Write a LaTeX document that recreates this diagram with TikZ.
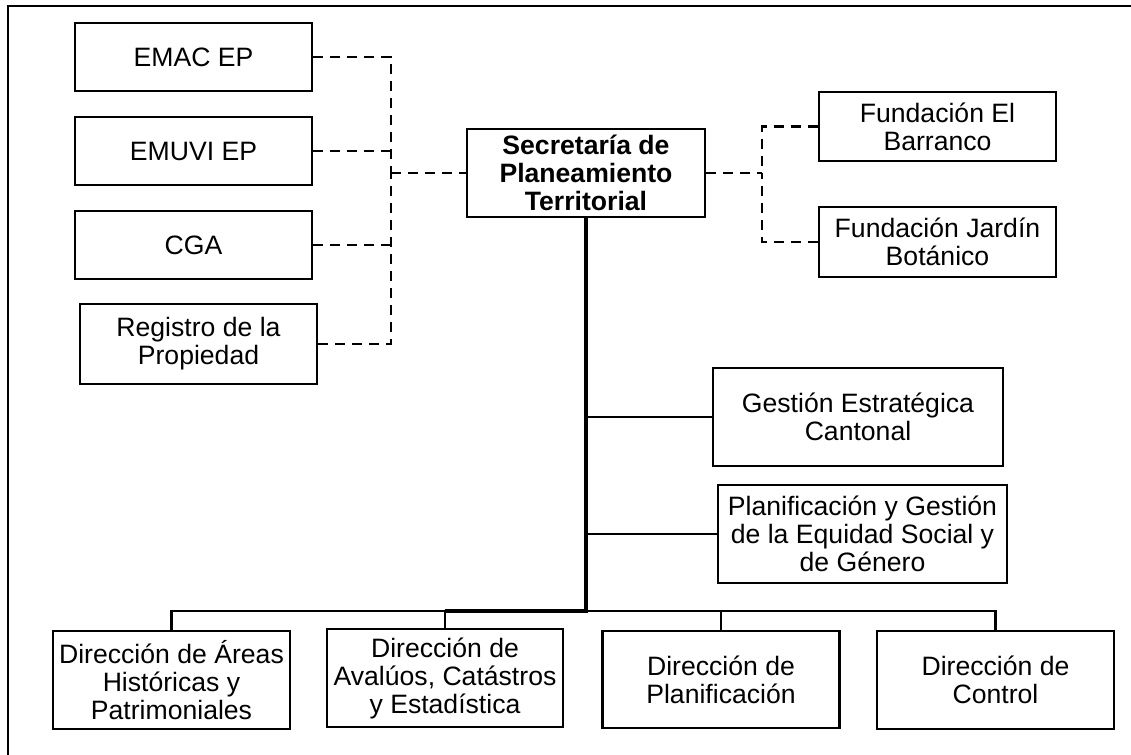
\documentclass[tikz,border=0pt]{standalone}
\usepackage{fontspec}
\setmainfont{Liberation Sans}
\usetikzlibrary{positioning}

\begin{document}
\begin{tikzpicture}[x=0.5pt,y=-0.5pt,
    unit/.style={draw, line width=1.2pt, align=center, inner sep=0pt,
        minimum width=118.5pt, font=\fontsize{13.3}{14}\selectfont},
    dep/.style={dash pattern=on 5pt off 3.5pt, line width=1.3pt},
    ]
\useasboundingbox (0,0) rectangle (1131,755);
\draw[line width=1pt] (8,755) -- (8,6) -- (1131,6);

% adscritas
\node [unit, minimum height=34pt] (emac) at (193.5,57) {EMAC EP};
\node [unit, minimum height=34pt] (emuvi) at (193.5,151) {EMUVI EP};
\node [unit, minimum height=34pt] (cga) at (193.5,245) {CGA};
\node [unit, minimum height=40pt] (registro) at (198.5,344)
    {Registro de la\\Propiedad};

\node [unit, minimum width=119pt, minimum height=44pt,
    font=\fontsize{13.3}{14}\selectfont\bfseries
    ]  (secretaria) at (586,173) {Secretaría de\\Planeamiento\\Territorial};

\node [unit, minimum height=34.5pt] (barranco) at (937.5,126.5)
    {Fundación El\\Barranco};
\node [unit, minimum height=35pt] (jardin) at (937.5,242)
    {Fundación Jardín\\Botánico};

% asesoria
\node [unit, minimum width=145pt, minimum height=49pt] (gestion) at (858,417)
    {Gestión Estratégica\\Cantonal};
\node [unit, minimum width=144.5pt, minimum height=49pt] (equidad) at (862.5,534)
    {Planificación y Gestión\\de la Equidad Social y\\de Género};

% direcciones
\node [unit, minimum height=49pt] (areas) at (171.5,680)
    {Dirección de Áreas\\Históricas y\\Patrimoniales};
\node [unit, minimum width=118pt, minimum height=49pt] (avaluos) at (445,678)
    {Dirección de\\Avalúos, Catástros\\y Estadística};
\node [unit, minimum height=48.5pt] (planif) at (721,679.5)
    {Dirección de\\Planificación};
\node [unit, minimum height=49pt] (control) at (995.5,680)
    {Dirección de\\Control};

% lineas punteadas
\coordinate (ljoin) at (391,173);
\draw[dep] (emac.east) -| (ljoin);
\draw[dep] (registro.east) -| (ljoin);
\draw[dep] (emuvi.east) -- (emuvi.east -| ljoin);
\draw[dep] (cga.east) -- (cga.east -| ljoin);
\draw[dep] (ljoin) -- (secretaria.west);

\coordinate (rjoin) at (762,173);
\draw[dep] (secretaria.east) -- (rjoin);
\draw[dep] (barranco.west) -| (rjoin);
\draw[dep] (jardin.west) -| (rjoin);

% lineas de mando
\coordinate (hub) at (586,611);
\draw[line width=1.1pt] (areas.north) |- (hub) -| (control.north);
\draw[line width=1.1pt] (avaluos.north) -- (avaluos.north |- hub);
\draw[line width=1.1pt] (planif.north) -- (planif.north |- hub);
\draw[line width=1.1pt] (gestion.west) -- (gestion.west -| hub);
\draw[line width=1.1pt] (equidad.west) -- (equidad.west -| hub);
\draw[line width=2pt] (secretaria.south) -- (hub) -- (hub -| avaluos.north);
\end{tikzpicture}
\end{document}
